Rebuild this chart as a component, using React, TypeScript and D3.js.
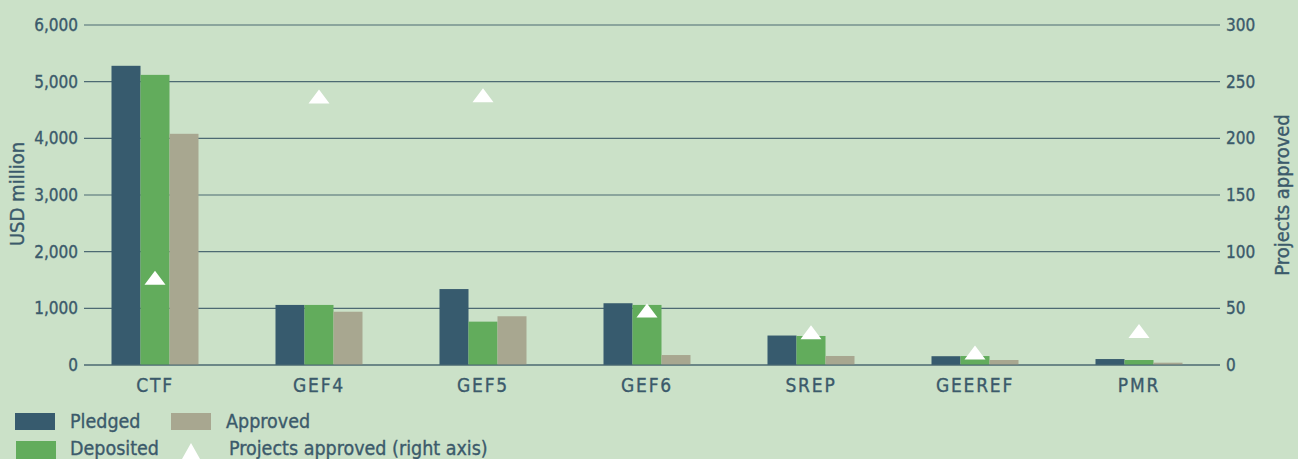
import React from 'react';
import * as d3 from 'd3';

const width = 1298;
const height = 459;

const funds = ['CTF', 'GEF4', 'GEF5', 'GEF6', 'SREP', 'GEEREF', 'PMR'];
const pledged = [5280, 1060, 1340, 1090, 520, 155, 105];
const deposited = [5120, 1060, 765, 1060, 512, 158, 88];
const approved = [4080, 940, 860, 176, 159, 88, 41];
const projects = [77, 237, 238, 48, 29, 11, 30];

const leftTicks = [0, 1000, 2000, 3000, 4000, 5000, 6000];
const rightTicks = [0, 50, 100, 150, 200, 250, 300];

const seriesKeys = ['Pledged', 'Deposited', 'Approved'];
const colors = ['#375b6e', '#62ac5c', '#a8a790'];
const textColor = '#3b5a6b';
const gridColor = '#4d6a73';
const font = '"DejaVu Sans Condensed", "DejaVu Sans", sans-serif';

const x = d3.scaleBand().domain(funds).range([73, 1221]).paddingInner(0).paddingOuter(0);
const xInner = d3.scaleBand().domain(seriesKeys).range([0, 87]);
const yLeft = d3.scaleLinear().domain([0, 6000]).range([365, 25]);
const yRight = d3.scaleLinear().domain([0, 300]).range([365, 25]);

const tri = (cx: number, cy: number, w: number, h: number) =>
  `M${cx},${cy - h / 2}L${cx + w / 2},${cy + h / 2}L${cx - w / 2},${cy + h / 2}Z`;

const App = () => {
  const values = [pledged, deposited, approved];
  const fmt = d3.format(',');
  const txt = { fill: textColor, stroke: textColor, strokeWidth: 0.35 };
  return (
    <svg width={width} height={height} style={{ position: 'absolute', left: 0, top: 0, background: '#cbe1c8' }} fontFamily={font}>
      <rect width={width} height={height} fill="#cbe1c8" />
      {leftTicks.map((t) => (
        <line key={t} x1={84} x2={1220} y1={yLeft(t)} y2={yLeft(t)} stroke={gridColor} strokeWidth={1.2} />
      ))}
      {leftTicks.map((t) => (
        <text key={t} x={78} y={yLeft(t)} dy="0.35em" textAnchor="end" fontSize={17} {...txt}>{fmt(t)}</text>
      ))}
      {rightTicks.map((t) => (
        <text key={t} x={1226} y={yRight(t)} dy="0.35em" textAnchor="start" fontSize={17} {...txt}>{t}</text>
      ))}
      <text transform={`translate(24,194) rotate(-90)`} textAnchor="middle" fontSize={20} {...txt}>USD million</text>
      <text transform={`translate(1289,195) rotate(-90)`} textAnchor="middle" fontSize={20} {...txt}>Projects approved</text>
      {funds.map((f, i) => {
        const gx = (x(f) as number) + x.bandwidth() / 2 - 43.5;
        return (
          <g key={f}>
            {seriesKeys.map((k, j) => (
              <rect key={k} x={gx + (xInner(k) as number)} y={yLeft(values[j][i])} width={xInner.bandwidth()} height={365 - yLeft(values[j][i])} fill={colors[j]} />
            ))}
          </g>
        );
      })}
      <line x1={84} x2={1220} y1={365} y2={365} stroke={gridColor} strokeWidth={1.2} />
      {funds.map((f, i) => (
        <path key={f} d={tri((x(f) as number) + x.bandwidth() / 2, yRight(projects[i]), 21, 14)} fill="#ffffff" />
      ))}
      {funds.map((f) => (
        <text key={f} x={(x(f) as number) + x.bandwidth() / 2} y={392} textAnchor="middle" fontSize={19} letterSpacing={1.8} {...txt}>{f}</text>
      ))}
      <rect x={15} y={413} width={40} height={17} fill={colors[0]} />
      <text x={70} y={428} fontSize={19.5} {...txt}>Pledged</text>
      <rect x={171} y={413} width={40} height={17} fill={colors[2]} />
      <text x={226} y={428} fontSize={19.5} {...txt}>Approved</text>
      <rect x={16} y={441} width={40} height={18} fill={colors[1]} />
      <text x={70} y={455} fontSize={19.5} {...txt}>Deposited</text>
      <path d={tri(191, 451, 18, 16)} fill="#ffffff" />
      <text x={229} y={455} fontSize={19.5} {...txt}>Projects approved (right axis)</text>
    </svg>
  );
};

export default App;
